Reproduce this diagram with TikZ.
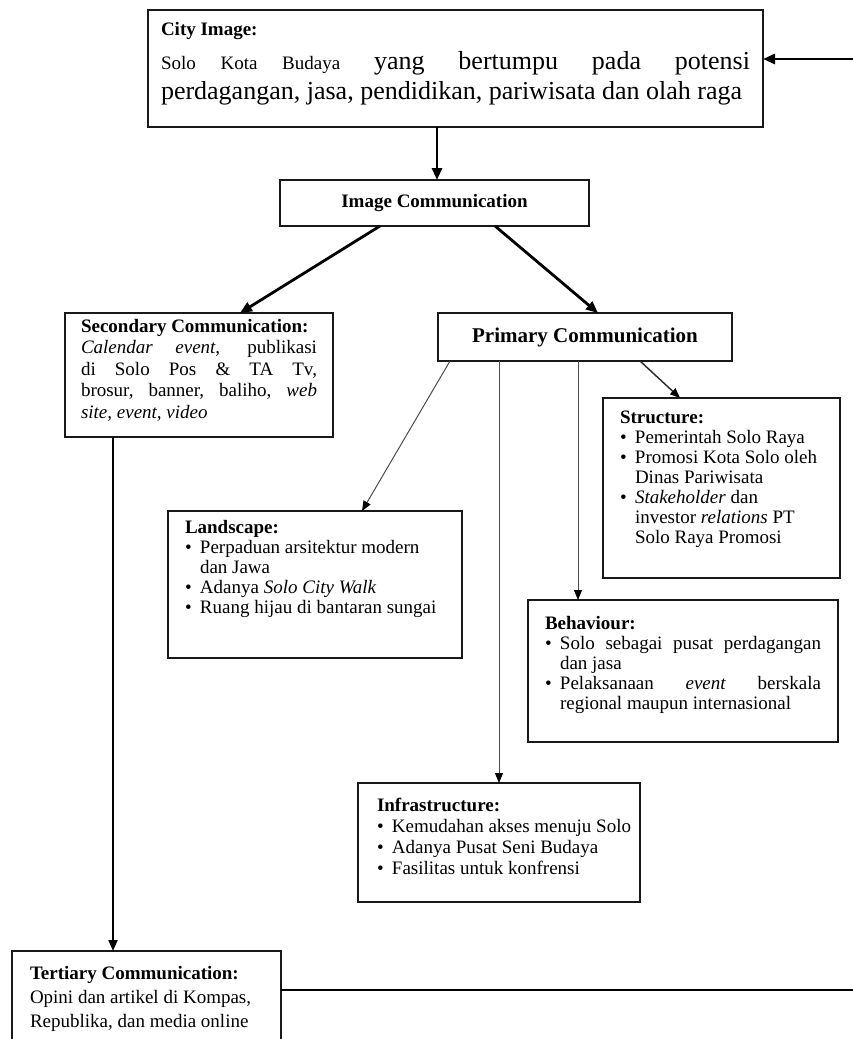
\documentclass[tikz,border=0pt]{standalone}
\usepackage{fontspec}
\setmainfont{Liberation Serif}
\usetikzlibrary{arrows.meta}

% text sizes used inside the boxes
\newcommand\boxfont{\fontsize{19}{20}\selectfont}
% bullet item with hanging indent
\newcommand\bitem[1]{\par\hangindent=15pt\hangafter=1\noindent\makebox[15pt][l]{\textbullet}#1}

\tikzset{
  box/.style={draw=black!90, line width=1.9pt, anchor=north west, inner ysep=0pt, outer sep=0pt, fill=white},
  cbox/.style={draw=black!90, line width=1.9pt, anchor=north west, inner sep=0pt, outer sep=0pt, fill=white, align=center},
  heavyarrow/.style={line width=2.8pt, -{Triangle[length=12pt,width=10pt]}},
  midarrow/.style={line width=2.1pt, -{Triangle[length=11pt,width=9pt]}},
  lightarrow/.style={line width=1pt, draw=black!70, -{Triangle[length=10pt,width=8pt,black]}},
  heavyline/.style={line width=2.8pt},
}

\begin{document}
\begin{tikzpicture}[x=1pt,y=-1pt]
\fill[white] (0,0) rectangle (853,1039);
\useasboundingbox (0,0) rectangle (853,1039);

% ---- boxes ----
\node[box, inner xsep=13pt, inner ysep=12pt] (city) at (148,10) {\parbox[c][93pt][t]{589pt}{%
  {\fontsize{19}{22}\bfseries\selectfont City Image:\par}\vspace{4pt}%
  \fontsize{26}{30}\selectfont {\fontsize{19}{30}\selectfont Solo Kota Budaya} yang bertumpu pada potensi\linebreak
  perdagangan, jasa, pendidikan, pariwisata dan olah raga}};

\node[cbox, minimum width=309pt, minimum height=46pt] (img) at (280,180)
  {\fontsize{19}{22}\bfseries\selectfont Image Communication};

\node[cbox, minimum width=294pt, minimum height=48pt] (prim) at (438,313)
  {\fontsize{21}{24}\bfseries\selectfont Primary Communication};

\node[box, inner xsep=16pt, inner ysep=6pt] (sec) at (65,313) {\parbox[c][112pt][t]{236pt}{%
  \fontsize{19}{21.5}\selectfont
  \textbf{Secondary Communication:}\par
  \textit{Calendar event}, publikasi\linebreak
  di Solo Pos \& TA Tv,\linebreak
  brosur, banner, baliho, \textit{web}\linebreak
  \textit{site, event, video}}};

\node[box, inner xsep=17pt, inner ysep=13pt] (str) at (603,398) {\parbox[c][154pt][t]{203pt}{%
  \raggedright\boxfont
  \textbf{Structure:}
  \bitem{Pemerintah Solo Raya}
  \bitem{Promosi Kota Solo oleh\newline Dinas Pariwisata}
  \bitem{\textit{Stakeholder} dan\newline investor \textit{relations} PT\newline Solo Raya Promosi}}};

\node[box, inner xsep=17pt, inner ysep=9pt] (land) at (168,511) {\parbox[c][129pt][t]{260pt}{%
  \raggedright\boxfont
  \textbf{Landscape:}
  \bitem{Perpaduan arsitektur modern\newline dan Jawa}
  \bitem{Adanya \textit{Solo City Walk}}
  \bitem{Ruang hijau di bantaran sungai}}};

\node[box, inner xsep=17pt, inner ysep=16pt] (beh) at (528,600) {\parbox[c][110pt][t]{276pt}{%
  \boxfont
  \textbf{Behaviour:}
  \bitem{Solo sebagai pusat perdagangan\linebreak dan jasa}
  \bitem{Pelaksanaan \textit{event} berskala\linebreak regional maupun internasional}}};

\node[box, inner xsep=19pt, inner ysep=15pt] (infra) at (358,783) {\parbox[c][89pt][t]{244pt}{%
  \raggedright\fontsize{19}{21}\selectfont
  \textbf{Infrastructure:}
  \bitem{\mbox{Kemudahan akses menuju Solo}}
  \bitem{\mbox{Adanya Pusat Seni Budaya}}
  \bitem{\mbox{Fasilitas untuk konfrensi}}}};

\node[box, inner xsep=18pt, inner ysep=15pt] (tert) at (12,951) {\parbox[c][69pt][t]{233pt}{%
  \raggedright\fontsize{19}{24}\selectfont
  \textbf{Tertiary Communication:}\par
  Opini dan artikel di Kompas,\newline
  Republika, dan media online}};

% ---- connectors ----
\draw[heavyarrow] ([xshift=289pt]city.south west) -- ([xshift=157pt]img.north west);
\draw[heavyarrow] ([xshift=100pt]img.south west) -- ([xshift=175pt]sec.north west);
\draw[heavyarrow] ([xshift=215pt]img.south west) -- ([xshift=160pt]prim.north west);

\draw[lightarrow] ([xshift=12pt]prim.south west) -- ([xshift=194pt]land.north west);
\draw[lightarrow] ([xshift=61pt]prim.south west) -- ([xshift=141pt]infra.north west);
\draw[lightarrow] ([xshift=140pt]prim.south west) -- ([xshift=50pt]beh.north west);
\draw[lightarrow, line width=1.4pt, draw=black!85] ([xshift=202pt]prim.south west) -- ([xshift=77pt]str.north west);

\draw[midarrow] ([xshift=48pt]sec.south west) -- ([xshift=101pt]tert.north west);

% feedback loop from tertiary back to the city image
\coordinate (loopLow) at (856,990);
\coordinate (loopHigh) at (856,59);
\draw[heavyline] (tert.east |- loopLow) -- (loopLow) -- (loopHigh);
\draw[heavyarrow] (loopHigh) -- (city.east |- loopHigh);
\end{tikzpicture}
\end{document}
